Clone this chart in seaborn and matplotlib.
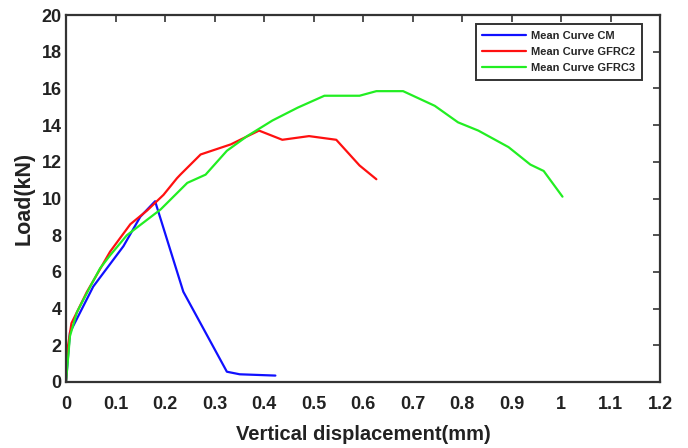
import matplotlib
matplotlib.use("Agg")
import matplotlib.pyplot as plt
import seaborn as sns
import pandas as pd

# Mean load-displacement curves
cm_x = [0, 0.008, 0.055, 0.116, 0.150, 0.180, 0.237, 0.325, 0.351, 0.423]
cm_y = [0, 2.7, 5.2, 7.4, 9.0, 9.85, 4.92, 0.56, 0.42, 0.35]

gfrc2_x = [0, 0.002, 0.011, 0.042, 0.089, 0.130, 0.164, 0.197, 0.224, 0.231,
           0.272, 0.333, 0.367, 0.390, 0.437, 0.491, 0.546, 0.593, 0.627]
gfrc2_y = [0, 1.6, 3.2, 4.9, 7.1, 8.6, 9.35, 10.2, 11.1, 11.3,
           12.4, 12.95, 13.4, 13.7, 13.2, 13.4, 13.2, 11.8, 11.05]

gfrc3_x = [0, 0.008, 0.022, 0.049, 0.069, 0.089, 0.123, 0.191, 0.245, 0.282,
           0.325, 0.366, 0.417, 0.468, 0.522, 0.593, 0.627, 0.681, 0.745,
           0.792, 0.833, 0.894, 0.938, 0.965, 1.003]
gfrc3_y = [0, 2.5, 3.8, 5.2, 6.2, 6.9, 8.0, 9.4, 10.85, 11.3,
           12.6, 13.4, 14.25, 14.95, 15.6, 15.6, 15.85, 15.85, 15.05,
           14.15, 13.7, 12.8, 11.85, 11.5, 10.1]

series_names = ["Mean Curve CM", "Mean Curve GFRC2", "Mean Curve GFRC3"]
series_colors = ["#1010ff", "#ff1010", "#22ee22"]

x_ticks = [0, 0.1, 0.2, 0.3, 0.4, 0.5, 0.6, 0.7, 0.8, 0.9, 1, 1.1, 1.2]
x_tick_labels = ["0", "0.1", "0.2", "0.3", "0.4", "0.5", "0.6", "0.7", "0.8",
                 "0.9", "1", "1.1", "1.2"]
y_ticks = [0, 2, 4, 6, 8, 10, 12, 14, 16, 18, 20]

frames = []
for name, xs, ys in zip(series_names,
                        [cm_x, gfrc2_x, gfrc3_x],
                        [cm_y, gfrc2_y, gfrc3_y]):
    frames.append(pd.DataFrame({"disp": xs, "load": ys, "curve": name}))
df = pd.concat(frames, ignore_index=True)

sns.set_style("white")
plt.rcParams["font.family"] = ["Liberation Sans", "DejaVu Sans"]

fig = plt.figure(figsize=(6.88, 4.48), dpi=100)
ax = fig.add_axes([66 / 688, 1 - 382 / 448, 594 / 688, 367 / 448])

# each curve is drawn as a polyline in its recorded point order
for name, color in zip(series_names, series_colors):
    sub = df[df["curve"] == name]
    sns.lineplot(data=sub, x="disp", y="load", sort=False, estimator=None,
                 color=color, linewidth=1.6, ax=ax, label=name)

ax.set_xlim(0, 1.2)
ax.set_ylim(0, 20)
ax.set_xticks(x_ticks)
ax.set_xticklabels(x_tick_labels)
ax.set_yticks(y_ticks)

for sp in ax.spines.values():
    sp.set_visible(True)
    sp.set_color("#333333")
    sp.set_linewidth(1.6)

ax.tick_params(direction="in", length=5, width=1.2, color="#333333",
               top=True, right=True, labelsize=13)
ax.tick_params(axis="x", pad=10)
ax.tick_params(axis="y", pad=3)
for lbl in ax.get_xticklabels() + ax.get_yticklabels():
    lbl.set_fontweight("bold")
    lbl.set_color("#222222")

ax.set_xlabel("Vertical displacement(mm)", fontsize=14.5, fontweight="bold",
              labelpad=9, color="#222222")
ax.set_ylabel("Load(kN)", fontsize=15.5, fontweight="bold", labelpad=5,
              color="#222222")

leg = ax.legend(loc="upper right", bbox_to_anchor=(0.970, 0.975),
                borderaxespad=0, prop={"weight": "bold", "size": 8},
                frameon=True, fancybox=False, handlelength=3.9,
                borderpad=0.6, labelspacing=0.55, handletextpad=0.5)
leg.get_frame().set_edgecolor("#333333")
leg.get_frame().set_linewidth(1.4)
leg.get_frame().set_alpha(1)

fig.savefig("out.png", dpi=100)
